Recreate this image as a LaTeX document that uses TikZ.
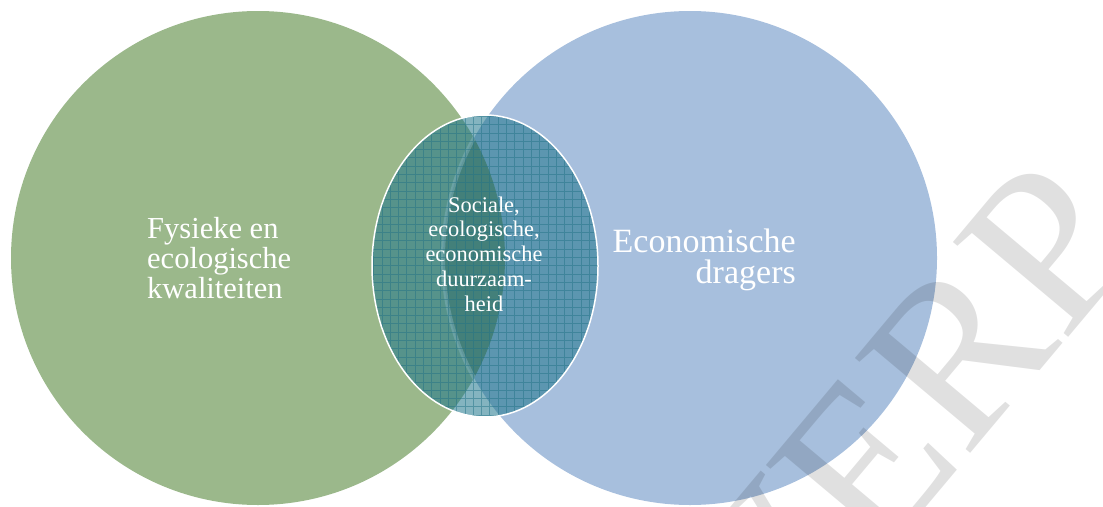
\documentclass[tikz,border=0pt]{standalone}
\usepackage{fontspec}
\setmainfont{Liberation Serif}
\usetikzlibrary{shapes.geometric}
\definecolor{greenC}{RGB}{155,184,139}
\definecolor{blueC}{RGB}{167,191,221}
\definecolor{tealC}{RGB}{31,118,140}
\definecolor{gridC}{RGB}{35,115,135}
\definecolor{lensC}{RGB}{112,142,102}
\tikzset{
  bigcirc/.style={circle, minimum size=494pt, inner sep=0pt},
  lbl/.style={text=white, inner sep=0pt},
}
\begin{document}
\begin{tikzpicture}[x=1pt,y=-1pt]
\useasboundingbox (0,0) rectangle (1103,506);
\clip (0,0) rectangle (1103,506);
\node[bigcirc, fill=greenC] (green) at (258,258) {};
\node[bigcirc, fill=blueC] (blue) at (690,258) {};
\begin{scope}
  \clip (258,258) circle[radius=247pt];
  \fill[lensC] (690,258) circle[radius=247pt];
  \draw[white, opacity=0.45, line width=4pt] (690,258) circle[radius=247pt];
\end{scope}
\fill[tealC, opacity=0.55] (485,266) ellipse[x radius=113pt, y radius=151pt];
\begin{scope}
  \clip (485,266) ellipse[x radius=113pt, y radius=151pt];
  \draw[gridC, line width=0.6pt, opacity=0.5] (370,112) grid[step=8.3pt] (600,420);
\end{scope}
\node[ellipse, draw=white, line width=1.5pt, minimum width=226pt, minimum height=302pt, inner sep=0pt] (mid) at (485,266) {};
\node[rotate=50, anchor=base east, inner sep=0pt, font=\fontsize{228}{228}\selectfont, text=black, text opacity=0.12] (wm) at (1145,246) {ONTWERP};
\node[lbl, font=\fontsize{30.5}{30}\selectfont, align=left, anchor=base west] (ltext) at (147,298) {Fysieke en\\ecologische\\kwaliteiten};
\node[lbl, font=\fontsize{34}{31}\selectfont, align=right, anchor=base east] (rtext) at (796,283) {Economische\\dragers};
\node[lbl, font=\fontsize{22.4}{24.75}\selectfont, align=center, anchor=base] (ctext) at (484,311) {Sociale,\\ecologische,\\economische\\duurzaam-\\heid};
\end{tikzpicture}
\end{document}
